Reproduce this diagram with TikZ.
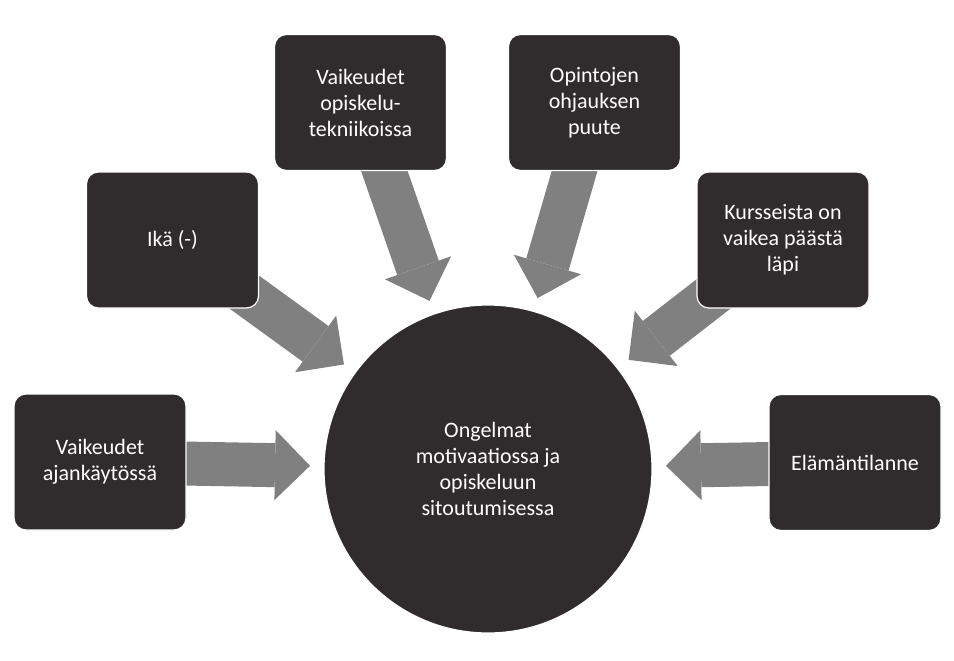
\documentclass[tikz,border=0pt]{standalone}
\usepackage{fontspec}
\setmainfont{Carlito}
\usetikzlibrary{arrows.meta,calc,backgrounds}
\definecolor{boxdark}{RGB}{48,44,45}
\definecolor{flowgray}{RGB}{128,128,128}

\begin{document}
\begin{tikzpicture}[
  x=1pt, y=-1pt,
  font=\fontsize{22}{26}\selectfont,
  cause/.style={
    draw=white, line width=1.2pt, fill=boxdark, text=white,
    rounded corners=12pt, minimum width=172pt, minimum height=136pt,
    align=center, inner sep=4pt},
  flow/.style={
    draw=flowgray, line width=44pt,
    -{Triangle[length=35pt,width=70pt,line width=0pt]}}
]
\useasboundingbox (0,0) rectangle (954,661);

% Centre: the problem itself
\node[
  circle, draw=white, line width=1.2pt, fill=boxdark, text=white,
  minimum size=328pt, align=center
] (core) at (488,469)
  {Ongelmat\\motivaatiossa ja\\opiskeluun\\sitoutumisessa};

% Causes round the centre
\node[cause] (ajan)  at (100,462)     {Vaikeudet\\ajankäytössä};
\node[cause] (ika)   at (172.5,240)   {Ikä (-)};
\node[cause] (tekn)  at (360.5,102.5) {Vaikeudet\\opiskelu-\\tekniikoissa};
\node[cause] (ohj)   at (594.5,102.5) {Opintojen\\ohjauksen\\puute};
\node[cause] (kurss) at (783,240)     {Kursseista on\\vaikea päästä\\läpi};
\node[cause] (elam)  at (855,462.5)   {Elämäntilanne};

% Block arrows, behind the boxes
\begin{pgfonlayer}{background}
\foreach \src in {ajan,ika,tekn,ohj,kurss,elam}
  \draw[flow] (\src.center) -- ($(core.center)!178pt!(\src.center)$);
\end{pgfonlayer}
\end{tikzpicture}
\end{document}
